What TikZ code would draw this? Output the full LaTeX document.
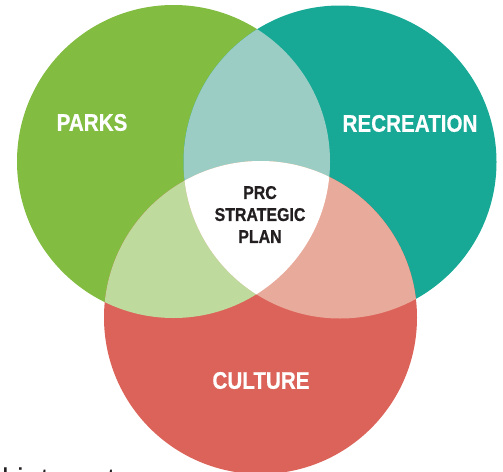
\documentclass[tikz,border=0pt]{standalone}
\usepackage{fontspec}
\setmainfont{Liberation Sans}
\newfontfamily\labfont[FakeStretch=0.86,FakeBold=0.6]{Liberation Sans Bold}
\definecolor{parksgreen}{HTML}{82BC41}
\definecolor{recteal}{HTML}{17A996}
\definecolor{culred}{HTML}{DC6359}
\definecolor{lensgt}{HTML}{9CCDC5}
\definecolor{lensgr}{HTML}{BEDA9C}
\definecolor{lenstr}{HTML}{E8AA9B}
\definecolor{darktext}{HTML}{231F20}
\tikzset{
  biglabel/.style={text=white, inner sep=0pt, font=\labfont\fontsize{24}{28}\selectfont},
  centerlabel/.style={text=darktext, inner sep=0pt, align=center, font=\labfont\fontsize{18.5}{22}\selectfont},
  cuttext/.style={text=darktext, inner sep=0pt, anchor=base west, font=\fontsize{30}{34}\selectfont}
}
\begin{document}
\begin{tikzpicture}[x=1pt,y=-1pt]
\useasboundingbox (0,0) rectangle (503,471);
\clip (0,0) rectangle (503,471);
\coordinate (gc) at (173.5,161.5);
\coordinate (tc) at (340,162);
\coordinate (rc) at (260.5,317.5);
\def\R{156.5pt}
% base circles
\fill[parksgreen] (gc) circle[radius=\R];
\fill[recteal] (tc) circle[radius=\R];
\fill[culred] (rc) circle[radius=\R];
% pairwise lenses
\begin{scope}
  \clip (gc) circle[radius=\R];
  \fill[lensgt] (tc) circle[radius=\R];
\end{scope}
\begin{scope}
  \clip (gc) circle[radius=\R];
  \fill[lensgr] (rc) circle[radius=\R];
\end{scope}
\begin{scope}
  \clip (tc) circle[radius=\R];
  \fill[lenstr] (rc) circle[radius=\R];
\end{scope}
% centre
\begin{scope}
  \clip (gc) circle[radius=\R];
  \clip (tc) circle[radius=\R];
  \fill[white] (rc) circle[radius=\R];
\end{scope}
% labels
\node[biglabel] (parks) at (92,122.5) {PARKS};
\node[biglabel] (recreation) at (410,123.5) {RECREATION};
\node[biglabel] (culture) at (261,380.5) {CULTURE};
\node[centerlabel] (prc) at (260,214.5) {PRC\\STRATEGIC\\PLAN};
\node[cuttext] (interests) at (-8,489.5) {d interests};
\end{tikzpicture}
\end{document}
